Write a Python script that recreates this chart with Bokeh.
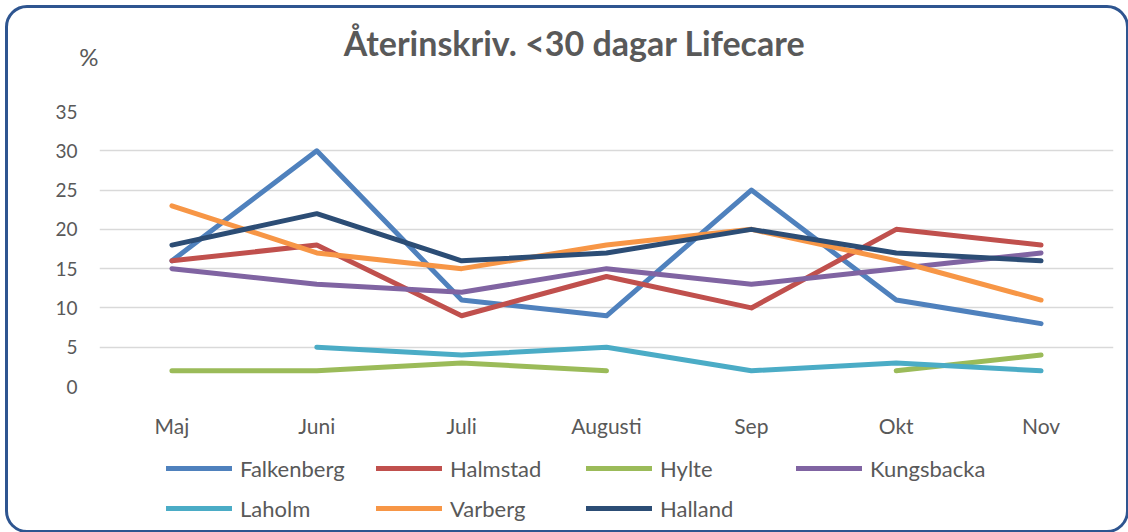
import numpy as np
from bokeh.plotting import figure
from bokeh.layouts import column
from bokeh.models import (Legend, LegendItem, ColumnDataSource, Label, Range1d,
                          LinearAxis, FixedTicker)
from bokeh.embed import file_html
from bokeh.resources import INLINE

months = ["Maj", "Juni", "Juli", "Augusti", "Sep", "Okt", "Nov"]
nan = np.nan
falkenberg = [16, 30, 11, 9, 25, 11, 8]
halmstad = [16, 18, 9, 14, 10, 20, 18]
hylte = [2, 2, 3, 2, nan, 2, 4]
kungsbacka = [15, 13, 12, 15, 13, 15, 17]
laholm = [nan, 5, 4, 5, 2, 3, 2]
varberg = [23, 17, 15, 18, 20, 16, 11]
halland = [18, 22, 16, 17, 20, 17, 16]
y_ticks = [0, 5, 10, 15, 20, 25, 30, 35]

series = [
    ("Falkenberg", falkenberg, "#4F81BD"),
    ("Halmstad", halmstad, "#C0504D"),
    ("Hylte", hylte, "#9BBB59"),
    ("Kungsbacka", kungsbacka, "#8064A2"),
    ("Laholm", laholm, "#4BACC6"),
    ("Varberg", varberg, "#F79646"),
    ("Halland", halland, "#2C4D75"),
]

FONT = "Lato"
GRAY = "#595959"
W = 1118
H_HEAD, H_MAIN, H_LEG = 80, 352, 90


def bare(fig):
    fig.outline_line_color = None
    fig.background_fill_alpha = 0
    fig.border_fill_alpha = 0
    fig.grid.visible = False
    fig.axis.visible = False


# header with title and unit (frame is aligned with the chart frame)
head = figure(width=W, height=H_HEAD, x_range=Range1d(99, 1113),
              y_range=Range1d(0, H_HEAD), output_backend="svg",
              toolbar_location=None, min_border=0)
bare(head)
head.add_layout(Label(x=574, y=46, text="Återinskriv. <30 dagar Lifecare",
                      text_align="center", text_baseline="alphabetic",
                      text_font=FONT, text_font_style="bold",
                      text_font_size="34px", text_color=GRAY))
unit_axis = LinearAxis(ticker=FixedTicker(ticks=[32]),
                       major_label_overrides={32: "%"},
                       axis_line_color=None, major_tick_line_color=None,
                       minor_tick_line_color=None, major_tick_out=0,
                       major_tick_in=0, major_label_standoff=1,
                       major_label_text_font=FONT,
                       major_label_text_font_size="24px",
                       major_label_text_color=GRAY)
head.add_layout(unit_axis, "left")

# main chart
p = figure(x_range=months, y_range=(0, 35), width=W, height=H_MAIN,
           output_backend="svg", toolbar_location=None,
           min_border_left=91, min_border_right=13, min_border_top=23,
           min_border_bottom=54)
p.outline_line_color = None
p.background_fill_alpha = 0
p.border_fill_alpha = 0
p.x_range.range_padding = 0
p.xgrid.grid_line_color = None
p.ygrid.grid_line_color = "#D9D9D9"
p.ygrid.grid_line_width = 1.5
p.yaxis.ticker = y_ticks
for ax in (p.xaxis, p.yaxis):
    ax.axis_line_color = None
    ax.major_tick_line_color = None
    ax.minor_tick_line_color = None
    ax.major_tick_out = 0
    ax.major_tick_in = 0
    ax.major_label_text_font = FONT
    ax.major_label_text_color = GRAY
p.xaxis.major_label_text_font_size = "21px"
p.yaxis.major_label_text_font_size = "19px"
p.xaxis.major_label_standoff = 26
p.yaxis.major_label_standoff = 22

for name, vals, col in series:
    src = ColumnDataSource(dict(x=months, y=vals))
    p.line("x", "y", source=src, line_color=col, line_width=5,
           line_join="round", line_cap="round")

# legend strip: same series drawn out of view, only the legend shows
leg = figure(width=W, height=H_LEG, x_range=months,
             y_range=Range1d(100, 101), output_backend="svg",
             toolbar_location=None, min_border=0)
bare(leg)
items = []
for name, vals, col in series:
    src = ColumnDataSource(dict(x=months, y=vals))
    r = leg.line("x", "y", source=src, line_color=col, line_width=5,
                 line_cap="round")
    items.append(LegendItem(label=name, renderers=[r]))
legend = Legend(items=items, ncols=4, orientation="horizontal",
                location=(67, 5), glyph_width=66, glyph_height=34,
                label_height=34, label_width=130, label_standoff=8,
                spacing=6, padding=0, margin=0, border_line_color=None,
                background_fill_alpha=0,
                label_text_font=FONT, label_text_color=GRAY,
                label_text_font_size="22px")
leg.add_layout(legend)

layout = column(head, p, leg, spacing=0)
layout.styles = {"border": "3px solid #2E5590", "border-radius": "22px",
                 "margin": "5px 0 0 5px", "background": "white"}

open("out.html", "w").write(file_html(layout, INLINE))
